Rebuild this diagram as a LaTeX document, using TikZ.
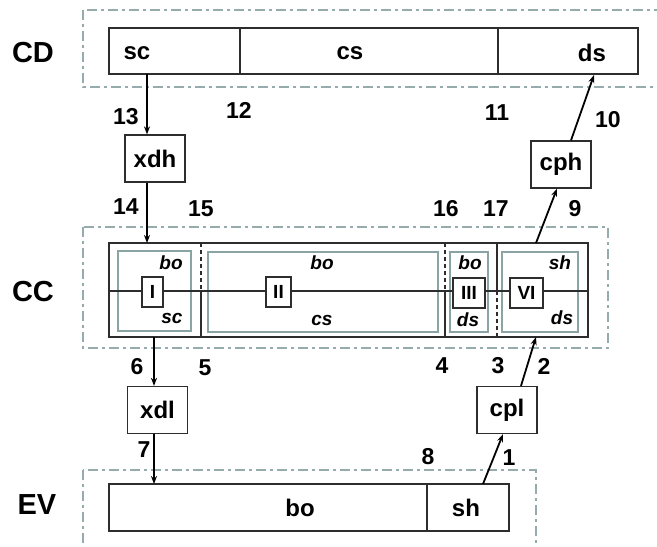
\documentclass[tikz,border=0pt]{standalone}
\usepackage{fontspec}
\setmainfont{Liberation Sans}
\usetikzlibrary{arrows.meta, positioning, calc}
\definecolor{FrameGray}{RGB}{150,172,172}
\definecolor{BoxGray}{RGB}{138,163,163}
\definecolor{EdgeDark}{RGB}{45,45,45}

\begin{document}
\begin{tikzpicture}[x=1pt, y=-1pt,
    frame/.style={draw=FrameGray, line width=1.1pt, dash pattern=on 10pt off 4pt on 3pt off 4pt},
    bar/.style={draw=EdgeDark, line width=1.3pt},
    inner/.style={draw=BoxGray, line width=1.2pt},
    cut/.style={draw=EdgeDark, line width=1.3pt, dash pattern=on 4pt off 3pt},
    unit/.style={draw=EdgeDark, line width=1.3pt, fill=white, inner sep=0pt,
      minimum width=60pt, minimum height=47pt, font=\fontsize{24}{24}\selectfont\bfseries},
    roman/.style={draw=EdgeDark, line width=1.3pt, fill=white, inner sep=0pt,
      minimum height=30pt, font=\fontsize{19}{19}\selectfont\bfseries},
    flow/.style={-{Stealth[length=8pt, width=6pt]}, line width=1.8pt},
    num/.style={font=\fontsize{23}{23}\selectfont\bfseries},
    layer/.style={font=\fontsize{29}{29}\selectfont\bfseries},
    part/.style={font=\fontsize{24}{24}\selectfont\bfseries},
    sub/.style={font=\fontsize{19}{19}\selectfont\bfseries\itshape}]

  \useasboundingbox (0,0) rectangle (657,547);
  \clip (0,0) rectangle (657,547);

  % layer frames
  \draw[frame] (83,10) rectangle (664,87);
  \draw[frame] (83,227) rectangle (608,348);
  \draw[frame] (83,470) rectangle (536,560);

  \node[layer] (cdlab) at (33,53) {CD};
  \node[layer] (cclab) at (33,292) {CC};
  \node[layer] (evlab) at (37,505) {EV};

  % CD bar
  \draw[bar] (109,28) rectangle (638,74);
  \draw[bar] (240,28) -- (240,74);
  \draw[bar] (498,28) -- (498,74);
  \node[part] (cdsc) at (137,53) {sc};
  \node[part] (cdcs) at (350,53) {cs};
  \node[part] (cdds) at (592,53) {ds};

  % CC bar
  \draw[bar] (109,243) rectangle (588,337);
  \draw[inner] (118,251) rectangle (191,331);
  \draw[inner] (208,252) rectangle (438,332);
  \draw[inner] (450,252) rectangle (488,332);
  \draw[inner] (502,252) rectangle (578,332);
  \draw[bar] (109,291) -- (588,291);
  \draw[cut] (201,243) -- (201,291);
  \draw[bar] (201,291) -- (201,337);
  \draw[cut] (445,243) -- (445,291);
  \draw[bar] (445,291) -- (445,337);
  \draw[bar] (497,243) -- (497,291);
  \draw[cut] (497,291) -- (497,337);
  \node[roman, minimum width=21pt] (rI) at (152.5,292) {I};
  \node[roman, minimum width=25pt] (rII) at (278.5,292) {II};
  \node[roman, minimum width=32pt] (rIII) at (469,293) {III};
  \node[roman, minimum width=33pt] (rVI) at (526.5,293) {VI};
  \foreach \t/\x/\y [count=\i] in {bo/171/263, sc/172/318, bo/322/263, cs/322/320,
      bo/470/263, ds/468/320, sh/560/263, ds/562/318}
    \node[sub] (cc\i) at (\x,\y) {\t};

  % EV bar
  \draw[bar] (109,484) rectangle (509,531);
  \draw[bar] (427,484) -- (427,531);
  \node[part] (evbo) at (300,508) {bo};
  \node[part] (evsh) at (466,508) {sh};

  % units between layers
  \node[unit] (xdh) at (155,158.5) {xdh};
  \node[unit] (cph) at (561,164.5) {cph};
  \node[unit] (xdl) at (157.5,410) {xdl};
  \node[unit] (cpl) at (507,410) {cpl};

  % ports on the bars
  \coordinate (scout) at (147,74);
  \coordinate (ccin) at (147,243);
  \coordinate (ccout) at (154,337);
  \coordinate (evin) at (154,484);
  \coordinate (evout) at (483,484);
  \coordinate (ccup) at (536,337);
  \coordinate (ccoff) at (536,243);
  \coordinate (dsin) at (594,75);

  \draw[flow] (scout) -- (xdh.north -| scout);
  \draw[flow] (xdh.south -| ccin) -- (ccin);
  \draw[flow] (ccout) -- (xdl.north -| ccout);
  \draw[flow] (xdl.south -| evin) -- (evin);
  \draw[flow] (evout) -- ($(cpl.south)+(-4,0)$);
  \draw[flow] ($(cpl.north)+(14,0)$) -- (ccup);
  \draw[flow] (ccoff) -- ($(cph.south)+(-4,0)$);
  \draw[flow] ($(cph.north)+(10,0)$) -- (dsin);

  % step numbers
  \foreach \n/\x/\y in {13/126/117, 12/239/110, 11/497/113, 10/608/120,
      14/126/207, 15/201/209, 16/446/209, 17/496/209, 9/575/209,
      6/137/367, 5/205/368, 4/442/366, 3/498/366, 2/544/366,
      7/144/450, 8/428/457, 1/509/458}
    \node[num] (s\n) at (\x,\y) {\n};
\end{tikzpicture}
\end{document}
